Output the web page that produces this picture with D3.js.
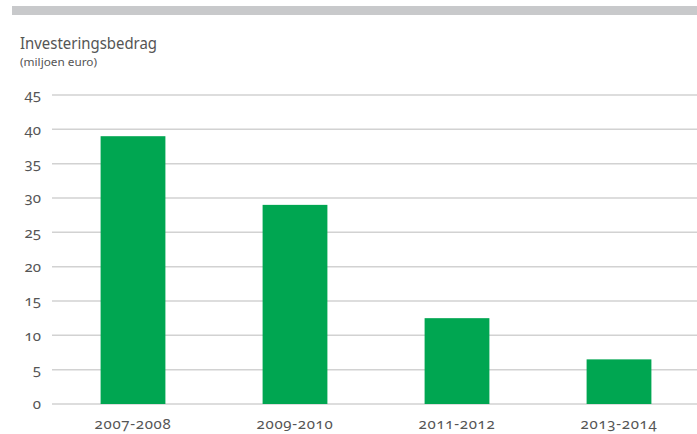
<!DOCTYPE html>
<html><head><meta charset="utf-8">
<script src="https://cdn.jsdelivr.net/npm/d3@7"></script>
<style>
html,body{margin:0;padding:0;background:#fff;}
svg text{fill:#555;}
.num{font-family:"Noto Sans",sans-serif;font-feature-settings:"onum" 1;font-variant-numeric:oldstyle-nums;}
.ttl{font-family:"Noto Sans",sans-serif;}
</style></head>
<body><svg id="c" width="697" height="434"></svg>
<script>
const categories = ["2007-2008","2009-2010","2011-2012","2013-2014"];
const values = [39, 29, 12.5, 6.5];
const yTicks = [0,5,10,15,20,25,30,35,40,45];
const title = "Investeringsbedrag";
const subtitle = "(miljoen euro)";

const svg = d3.select("#c");
svg.append("rect").attr("x",12).attr("y",6).attr("width",685).attr("height",9).attr("fill","#c8c9cb");
svg.append("text").attr("class","ttl").attr("x",20).attr("y",49).attr("font-size",16).attr("fill","#5a5a5a")
  .attr("textLength",137).attr("lengthAdjust","spacingAndGlyphs").text(title);
svg.append("text").attr("class","ttl").attr("x",20).attr("y",66).attr("font-size",11).attr("fill","#5a5a5a")
  .attr("textLength",77).attr("lengthAdjust","spacingAndGlyphs").text(subtitle);

const y = d3.scaleLinear().domain([0,45]).range([404,95]);
const x = d3.scaleBand().domain(categories).range([52,700]).paddingInner(0.6).paddingOuter(0.3);

const grid = svg.append("g");
grid.selectAll("line").data(yTicks).join("line")
  .attr("x1",52).attr("x2",697).attr("y1",d=>y(d)).attr("y2",d=>y(d))
  .attr("stroke","#d2d2d2").attr("stroke-width",1.5);

const yAxis = svg.append("g").attr("transform","translate(46,0)")
  .call(d3.axisLeft(y).tickValues(yTicks).tickSize(0).tickPadding(5));
yAxis.select(".domain").remove();
yAxis.selectAll("text").attr("class","num").attr("font-size",15).attr("fill","#555").attr("font-family",null);

svg.append("g").selectAll("rect").data(values).join("rect")
  .attr("x",(d,i)=>x(categories[i])).attr("width",x.bandwidth())
  .attr("y",d=>y(d)).attr("height",d=>y(0)-y(d)).attr("fill","#00a651");

const xAxis = svg.append("g").attr("transform","translate(0,404)")
  .call(d3.axisBottom(x).tickSize(0).tickPadding(16));
xAxis.select(".domain").remove();
xAxis.selectAll("text").attr("class","num").attr("font-size",15).attr("fill","#555").attr("font-family",null)
  .attr("dy","0.6em").style("letter-spacing","0.7px");
</script></body></html>
